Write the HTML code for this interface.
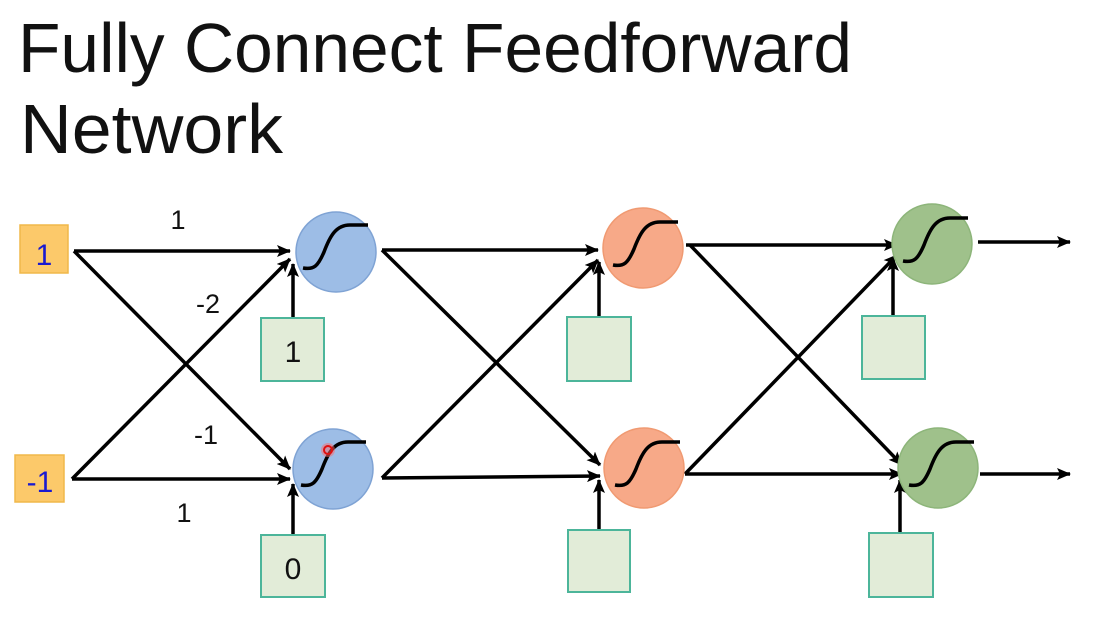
<!DOCTYPE html>
<html><head><meta charset="utf-8"><style>
html,body{margin:0;padding:0;background:#fff;}
svg{display:block;}
</style></head><body>
<svg width="1105" height="617" viewBox="0 0 1105 617" xmlns="http://www.w3.org/2000/svg" font-family="Liberation Sans, sans-serif">
<defs>
<marker id="a" markerWidth="14" markerHeight="12" refX="13" refY="6" orient="auto" markerUnits="userSpaceOnUse">
<path d="M0,0 L14,6 L0,12 L3,6 Z" fill="#000"/></marker>
<path id="sig" d="M-33,16 C-22,18 -18,14 -12,0 C-6,-16 0,-27 14,-27 L32,-27" fill="none" stroke="#000" stroke-width="3.5"/>
</defs>
<text x="18" y="72" font-size="70" textLength="834" lengthAdjust="spacingAndGlyphs" fill="#111">Fully Connect Feedforward</text>
<text x="20" y="153" font-size="70" textLength="263" lengthAdjust="spacingAndGlyphs" fill="#111">Network</text>

<g stroke="#000" stroke-width="3.5" fill="none" marker-end="url(#a)">
<line x1="74" y1="251" x2="290" y2="251"/>
<line x1="74" y1="251" x2="290" y2="469"/>
<line x1="72" y1="479" x2="290" y2="259"/>
<line x1="72" y1="479" x2="290" y2="479"/>
<line x1="293" y1="318" x2="293" y2="264"/>
<line x1="293" y1="535" x2="293" y2="484"/>

<line x1="382" y1="250" x2="598" y2="250"/>
<line x1="382" y1="250" x2="600" y2="465"/>
<line x1="382" y1="478" x2="598" y2="260"/>
<line x1="382" y1="478" x2="600" y2="476"/>
<line x1="599" y1="317" x2="599" y2="262"/>
<line x1="599" y1="530" x2="599" y2="480"/>

<line x1="686" y1="245" x2="897" y2="245"/>
<line x1="690" y1="245" x2="902" y2="465"/>
<line x1="685" y1="474" x2="897" y2="255"/>
<line x1="685" y1="474" x2="902" y2="474"/>
<line x1="893" y1="316" x2="893" y2="258"/>
<line x1="900" y1="533" x2="900" y2="480"/>

<line x1="978" y1="242" x2="1070" y2="242"/>
<line x1="980" y1="474" x2="1070" y2="474"/>
</g>

<rect x="20" y="225" width="48" height="48" fill="#fcc96a" stroke="#f0b84a" stroke-width="1.5"/>
<text x="44" y="265" font-size="30" text-anchor="middle" fill="#1a1ad0">1</text>
<rect x="15" y="455" width="49" height="47" fill="#fcc96a" stroke="#f0b84a" stroke-width="1.5"/>
<text x="40" y="492" font-size="30" text-anchor="middle" fill="#1a1ad0">-1</text>

<g font-size="27" fill="#111" text-anchor="middle">
<text x="178" y="229">1</text>
<text x="208" y="313">-2</text>
<text x="206" y="444">-1</text>
<text x="184" y="522">1</text>
</g>

<g fill="#e2ecd8" stroke="#4cb59a" stroke-width="2">
<rect x="261" y="318" width="63" height="63"/>
<rect x="261" y="535" width="64" height="62"/>
<rect x="567" y="317" width="64" height="64"/>
<rect x="568" y="530" width="62" height="62"/>
<rect x="862" y="316" width="63" height="63"/>
<rect x="869" y="533" width="64" height="64"/>
</g>
<g font-size="30" fill="#111" text-anchor="middle">
<text x="293" y="362">1</text>
<text x="293" y="579">0</text>
</g>

<g stroke-width="1.5">
<circle cx="336" cy="252" r="40" fill="#9dbde6" stroke="#7fa3d4"/>
<circle cx="333" cy="469" r="40" fill="#9dbde6" stroke="#7fa3d4"/>
<circle cx="643" cy="248" r="40" fill="#f7a988" stroke="#f09a72"/>
<circle cx="644" cy="468" r="40" fill="#f7a988" stroke="#f09a72"/>
<circle cx="932" cy="244" r="40" fill="#9fc18b" stroke="#8db57a"/>
<circle cx="938" cy="468" r="40" fill="#9fc18b" stroke="#8db57a"/>
</g>
<use href="#sig" x="336" y="252"/>
<use href="#sig" x="334" y="469"/>
<use href="#sig" x="646" y="249"/>
<use href="#sig" x="648" y="469"/>
<use href="#sig" x="936" y="245"/>
<use href="#sig" x="942" y="469"/>
<circle cx="328" cy="450" r="7" fill="#ff6a6a" opacity="0.5"/>
<circle cx="328" cy="450" r="4" fill="none" stroke="#e01010" stroke-width="2"/>
</svg>
</body></html>
